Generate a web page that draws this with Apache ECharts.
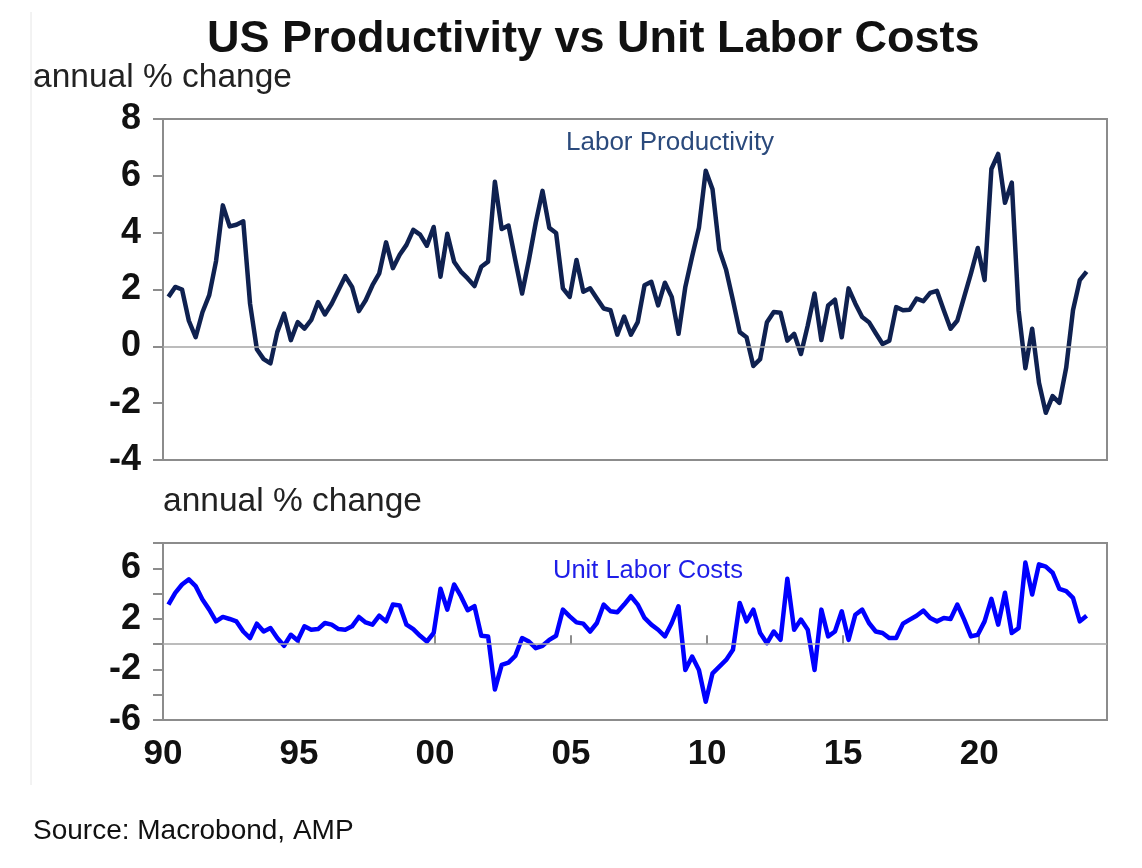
<!DOCTYPE html>
<html>
<head>
    <meta charset="UTF-8">
    <title>US Productivity vs Unit Labor Costs</title>
    <script src="https://cdn.jsdelivr.net/npm/echarts@6/dist/echarts.min.js"></script>
    <style>
        *{margin:0;padding:0}
        html,body{width:100%;height:100%;background:#fff}
        #main{width:1142px;height:868px}
    </style>
</head>
<body>
<div id="main"></div>
<script type="text/javascript">
    // quarterly, first point 1990 Q1
    var startYear = 1990;
    var yearTicks = [1990, 1995, 2000, 2005, 2010, 2015, 2020];

    // labor productivity, annual % change
    var prodValues = [
        1.74, 2.09, 2.0, 0.9, 0.32, 1.2, 1.8, 3.0, 4.96, 4.22, 4.28, 4.4,
        1.5, -0.1, -0.45, -0.6, 0.5, 1.15, 0.22, 0.85, 0.62, 0.93, 1.56, 1.12,
        1.5, 1.98, 2.47, 2.09, 1.24, 1.62, 2.15, 2.57, 3.66, 2.75, 3.22, 3.57,
        4.1, 3.93, 3.54, 4.2, 2.45, 3.96, 2.98, 2.63, 2.39, 2.12, 2.8, 2.98,
        5.79, 4.13, 4.25, 3.04, 1.86, 3.04, 4.34, 5.47, 4.17, 3.99, 2.04, 1.74,
        3.04, 1.92, 2.04, 1.68, 1.33, 1.27, 0.41, 1.05, 0.41, 0.85, 2.15, 2.27,
        1.44, 2.24, 1.74, 0.44, 2.09, 3.16, 4.17, 6.18, 5.53, 3.4, 2.69, 1.62,
        0.5, 0.32, -0.69, -0.45, 0.85, 1.21, 1.18, 0.2, 0.44, -0.27, 0.73, 1.86,
        0.22, 1.44, 1.64, 0.32, 2.04, 1.5, 1.03, 0.85, 0.46, 0.08, 0.2, 1.38,
        1.27, 1.29, 1.68, 1.59, 1.88, 1.95, 1.27, 0.62, 0.91, 1.74, 2.57, 3.46,
        2.33, 6.24, 6.77, 5.05, 5.76, 1.27, -0.77, 0.62, -1.28, -2.34, -1.75, -1.99,
        -0.75, 1.27, 2.33, 2.63
    ];

    // unit labor costs, annual % change
    var ulcValues = [
        3.13, 4.06, 4.72, 5.12, 4.59, 3.53, 2.73, 1.8, 2.15, 1.99, 1.8, 1.0,
        0.48, 1.62, 1.0, 1.27, 0.48, -0.13, 0.74, 0.29, 1.41, 1.14, 1.19, 1.67,
        1.54, 1.19, 1.14, 1.41, 2.15, 1.72, 1.54, 2.25, 1.8, 3.13, 3.05, 1.54,
        1.19, 0.66, 0.21, 0.88, 4.38, 2.73, 4.72, 3.79, 2.68, 3.0, 0.66, 0.61,
        -3.58, -1.64, -1.46, -0.93, 0.48, 0.21, -0.32, -0.13, 0.34, 0.66, 2.73, 2.2,
        1.72, 1.62, 1.0, 1.67, 3.13, 2.6, 2.52, 3.13, 3.79, 3.13, 2.07, 1.54,
        1.14, 0.61, 1.67, 3.0, -2.04, -0.98, -2.04, -4.56, -2.31, -1.78, -1.25, -0.45,
        3.26, 1.8, 2.73, 0.88, 0.08, 1.0, 0.34, 5.17, 1.14, 1.94, 1.14, -2.04,
        2.73, 0.61, 1.0, 2.6, 0.34, 2.33, 2.73, 1.67, 1.0, 0.88, 0.48, 0.48,
        1.62, 1.94, 2.25, 2.65, 2.07, 1.8, 2.07, 1.99, 3.13, 1.94, 0.61, 0.74,
        1.8, 3.58, 1.54, 4.06, 0.88, 1.27, 6.45, 3.93, 6.31, 6.13, 5.65, 4.38,
        4.19, 3.66, 1.8, 2.25
    ];

    // quarter position on the time axis (mid-quarter)
    function qx(i) {
        return startYear + 0.2 + i * 0.25;
    }
    var prodData = prodValues.map(function (v, i) { return [qx(i), v]; });
    var ulcData = ulcValues.map(function (v, i) { return [qx(i), v]; });

    var font = 'Liberation Sans, Arial, sans-serif';
    var zeroLine = {
        silent: true,
        symbol: 'none',
        label: {show: false},
        lineStyle: {color: '#a6a6a6', width: 1.5, type: 'solid'},
        data: [{yAxis: 0}]
    };

    var myChart = echarts.init(document.getElementById('main'));
    var option = {
        animation: false,
        textStyle: {fontFamily: font},
        graphic: [
            {type: 'line', shape: {x1: 31, y1: 12, x2: 31, y2: 785}, style: {stroke: '#e6e6e6', lineWidth: 1}},
            {type: 'text', left: 207, top: 17, style: {text: 'US Productivity vs Unit Labor Costs', font: 'bold 45px ' + font, fill: '#111'}},
            {type: 'text', left: 33, top: 61, style: {text: 'annual % change', font: '33.5px ' + font, fill: '#222'}},
            {type: 'text', left: 163, top: 485, style: {text: 'annual % change', font: '33.5px ' + font, fill: '#222'}},
            {type: 'text', left: 566, top: 130, style: {text: 'Labor Productivity', font: '26px ' + font, fill: '#2b4a7c'}},
            {type: 'text', left: 553, top: 558, style: {text: 'Unit Labor Costs', font: '25.5px ' + font, fill: '#1e1ee8'}},
            {type: 'text', left: 33, top: 817, style: {text: 'Source: Macrobond, AMP', font: '28px ' + font, fill: '#111'}}
        ],
        grid: [
            {left: 163, top: 119, width: 944, height: 341, show: true, borderColor: '#8c8c8c', borderWidth: 2},
            {left: 163, top: 543, width: 944, height: 177, show: true, borderColor: '#8c8c8c', borderWidth: 2}
        ],
        xAxis: [
            {
                type: 'value', gridIndex: 0, min: 1990, max: 2024.7, interval: 5,
                axisLine: {show: false}, axisTick: {show: false}, axisLabel: {show: false},
                splitLine: {show: false}
            },
            {
                type: 'value', gridIndex: 1, min: 1990, max: 2024.7, interval: 5,
                axisLine: {show: false},
                axisTick: {show: true, inside: true, length: 9, lineStyle: {color: '#8c8c8c', width: 2},
                    customValues: yearTicks},
                axisLabel: {
                    margin: 17, fontSize: 35, fontWeight: 'bold', color: '#111',
                    customValues: yearTicks,
                    formatter: function (v) { return String(v).slice(2); }
                },
                splitLine: {show: false}
            }
        ],
        yAxis: [
            {
                type: 'value', gridIndex: 0, min: -4, max: 8, interval: 2,
                axisLine: {show: false},
                axisTick: {show: true, length: 10, lineStyle: {color: '#8c8c8c', width: 2}},
                axisLabel: {margin: 22, fontSize: 36, fontWeight: 'bold', color: '#111'},
                splitLine: {show: false}
            },
            {
                type: 'value', gridIndex: 1, min: -6, max: 8, interval: 2,
                axisLine: {show: false},
                axisTick: {show: true, length: 10, lineStyle: {color: '#8c8c8c', width: 2}},
                axisLabel: {
                    margin: 22, fontSize: 36, fontWeight: 'bold', color: '#111',
                    formatter: function (v) { return (v + 6) % 4 === 0 && v < 8 ? String(v) : ''; }
                },
                splitLine: {show: false}
            }
        ],
        series: [
            {
                name: 'Labor Productivity', type: 'line', xAxisIndex: 0, yAxisIndex: 0,
                data: prodData, showSymbol: false, symbol: 'none',
                lineStyle: {color: '#0f2150', width: 4.5, join: 'round'},
                markLine: zeroLine, z: 3
            },
            {
                name: 'Unit Labor Costs', type: 'line', xAxisIndex: 1, yAxisIndex: 1,
                data: ulcData, showSymbol: false, symbol: 'none',
                lineStyle: {color: '#0000ff', width: 4.5, join: 'round'},
                markLine: zeroLine, z: 3
            }
        ]
    };
    myChart.setOption(option);
</script>
</body>
</html>
